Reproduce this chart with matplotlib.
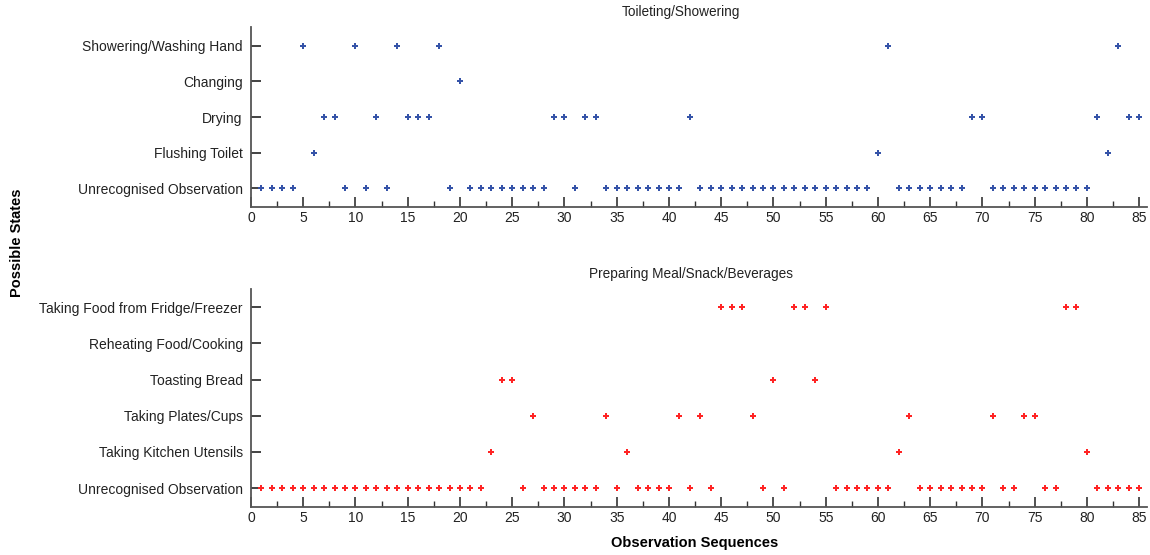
import matplotlib
matplotlib.use("Agg")
import matplotlib.pyplot as plt
from matplotlib.ticker import MultipleLocator

plt.rcParams['font.family'] = ['Liberation Sans', 'DejaVu Sans']

# ---- Data ----
top_title = "Toileting/Showering"
top_states = ["Unrecognised Observation", "Flushing Toilet", "Drying",
              "Changing", "Showering/Washing Hand"]
# state index (1 = bottom row) for observation sequences 1..85
top_sequence = [1, 1, 1, 1, 5, 2, 3, 3, 1, 5,
                1, 3, 1, 5, 3, 3, 3, 5, 1, 4,
                1, 1, 1, 1, 1, 1, 1, 1, 3, 3,
                1, 3, 3, 1, 1, 1, 1, 1, 1, 1,
                1, 3, 1, 1, 1, 1, 1, 1, 1, 1,
                1, 1, 1, 1, 1, 1, 1, 1, 1, 2,
                5, 1, 1, 1, 1, 1, 1, 1, 3, 3,
                1, 1, 1, 1, 1, 1, 1, 1, 1, 1,
                3, 2, 5, 3, 3]

bottom_title = "Preparing Meal/Snack/Beverages"
bottom_states = ["Unrecognised Observation", "Taking Kitchen Utensils",
                 "Taking Plates/Cups", "Toasting Bread",
                 "Reheating Food/Cooking", "Taking Food from Fridge/Freezer"]
bottom_sequence = [1, 1, 1, 1, 1, 1, 1, 1, 1, 1,
                   1, 1, 1, 1, 1, 1, 1, 1, 1, 1,
                   1, 1, 2, 4, 4, 1, 3, 1, 1, 1,
                   1, 1, 1, 3, 1, 2, 1, 1, 1, 1,
                   3, 1, 3, 1, 6, 6, 6, 3, 1, 4,
                   1, 6, 6, 4, 6, 1, 1, 1, 1, 1,
                   1, 2, 3, 1, 1, 1, 1, 1, 1, 1,
                   3, 1, 1, 3, 3, 1, 1, 6, 6, 2,
                   1, 1, 1, 1, 1]

observations = list(range(1, 86))
x_ticks = list(range(0, 90, 5))

xlabel = "Observation Sequences"
ylabel = "Possible States"

# ---- Figure ----
fig = plt.figure(figsize=(11.5, 5.55), dpi=100)
ax1 = fig.add_axes([251/1150, 1 - 207/555, (1147-251)/1150, (207-27)/555])
ax2 = fig.add_axes([251/1150, 1 - 507/555, (1147-251)/1150, (507-289)/555])

spine_col = '#555555'

def style(ax, states, seq, color, title, title_x, ylim):
    ax.plot(observations, seq, linestyle='none', marker='P', markersize=5,
            color=color, markeredgewidth=0)
    ax.set_xlim(0, 85.75)
    ax.set_ylim(*ylim)
    ax.set_yticks(range(1, len(states) + 1))
    ax.set_yticklabels(states, fontsize=10, color='#222222')
    ax.set_xticks(x_ticks)
    ax.set_xticklabels([str(t) for t in x_ticks], fontsize=10, color='#222222')
    ax.xaxis.set_minor_locator(MultipleLocator(2.5))
    ax.tick_params(axis='x', which='major', direction='in', length=7, width=1.2,
                   color='#333333', pad=3)
    ax.tick_params(axis='x', which='minor', direction='in', length=4, width=1,
                   color='#333333')
    ax.tick_params(axis='y', which='major', direction='in', length=7, width=1.2,
                   color='#222222', pad=6)
    for s in ['top', 'right']:
        ax.spines[s].set_visible(False)
    for s in ['left', 'bottom']:
        ax.spines[s].set_color(spine_col)
        ax.spines[s].set_linewidth(1.3)
    ax.set_title(title, fontsize=9.8, x=title_x, pad=8, color='#222222')

style(ax1, top_states, top_sequence, '#3553a8', top_title, 0.48, (0.47, 5.53))
style(ax2, bottom_states, bottom_sequence, '#ff2424', bottom_title, 0.491, (0.48, 6.5))

fig.text(695/1150, 1 - 543/555, xlabel, ha='center', va='center',
         fontsize=10.5, fontweight='bold')
fig.text(17/1150, 1 - 243/555, ylabel, ha='center', va='center',
         rotation=90, fontsize=10.5, fontweight='bold')

fig.savefig("out.png", dpi=100, facecolor='white')
